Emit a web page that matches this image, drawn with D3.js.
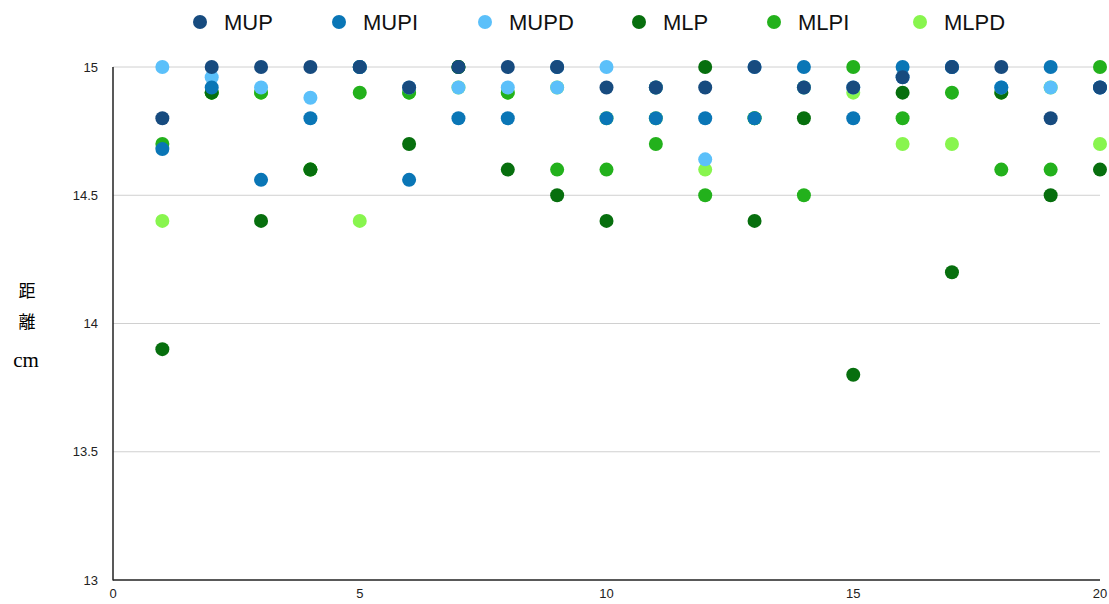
<!DOCTYPE html>
<html><head><meta charset="utf-8">
<script src="https://cdn.jsdelivr.net/npm/d3@7"></script>
<style>body{margin:0;background:#fff;font-family:"Liberation Sans",Arial,sans-serif}</style>
</head><body><svg id="c" width="1109" height="604"></svg>
<script>
const xs = [1,2,3,4,5,6,7,8,9,10,11,12,13,14,15,16,17,18,19,20];
const seriesNames = ["MUP","MUPI","MUPD","MLP","MLPI","MLPD"];
const colors = ["#174b7f","#0a76b6","#5bc0fa","#076f0e","#23b11c","#88f54e"];
const MUP  = [14.8,15,15,15,15,14.92,15,15,15,14.92,14.92,14.92,15,14.92,14.92,14.96,15,15,14.8,14.92];
const MUPI = [14.68,14.92,14.56,14.8,15,14.56,14.8,14.8,15,14.8,14.8,14.8,14.8,15,14.8,15,15,14.92,15,14.92];
const MUPD = [15,14.96,14.92,14.88,15,14.92,14.92,14.92,14.92,15,14.92,14.64,15,14.92,14.92,14.96,15,14.92,14.92,14.92];
const MLP  = [13.9,14.9,14.4,14.6,15,14.7,15,14.6,14.5,14.4,14.92,15,14.4,14.8,13.8,14.9,14.2,14.9,14.5,14.6];
const MLPI = [14.7,14.9,14.9,14.6,14.9,14.9,15,14.9,14.6,14.6,14.7,14.5,14.8,14.5,15,14.8,14.9,14.6,14.6,15];
const MLPD = [14.4,14.9,14.9,14.6,14.4,14.9,14.92,14.9,14.92,14.8,14.8,14.6,14.8,14.92,14.9,14.7,14.7,14.9,14.92,14.7];
const values = [MUP,MUPI,MUPD,MLP,MLPI,MLPD];
const xTicks = [0,5,10,15,20];
const yTicks = [13,13.5,14,14.5,15];

const svg = d3.select("#c");
const x = d3.scaleLinear().domain([0,20]).range([113,1100]);
const y = d3.scaleLinear().domain([13,15]).range([580,67]);

svg.append("g").selectAll("line").data(yTicks.filter(t=>t>13)).join("line")
  .attr("x1",x(0)).attr("x2",x(20)).attr("y1",d=>y(d)).attr("y2",d=>y(d))
  .attr("stroke","#d0d0d0").attr("stroke-width",1);

svg.append("g").selectAll("text").data(yTicks).join("text")
  .attr("x",98).attr("y",d=>y(d)).attr("dy","0.35em").attr("text-anchor","end")
  .attr("font-size",13).attr("fill","#222").text(d=>d);

svg.append("g").selectAll("text").data(xTicks).join("text")
  .attr("x",d=>x(d)).attr("y",598).attr("text-anchor","middle")
  .attr("font-size",13).attr("fill","#222").text(d=>d);

svg.append("line").attr("x1",x(0)).attr("x2",x(0)).attr("y1",y(15)).attr("y2",y(13)+0.5)
  .attr("stroke","#222").attr("stroke-width",1.5);
svg.append("line").attr("x1",x(0)).attr("x2",x(20)).attr("y1",y(13)).attr("y2",y(13))
  .attr("stroke","#222").attr("stroke-width",1.5);

const yl = svg.append("g");
yl.append("text").attr("x",27).attr("y",297).attr("text-anchor","middle")
  .attr("font-family","'Noto Sans CJK JP'").attr("font-size",17).text("距");
yl.append("text").attr("x",27).attr("y",328).attr("text-anchor","middle")
  .attr("font-family","'Noto Sans CJK JP'").attr("font-size",17).text("離");
yl.append("text").attr("x",26).attr("y",367).attr("text-anchor","middle")
  .attr("font-family","'Liberation Serif',serif").attr("font-size",21).text("cm");

const order = [5,4,3,2,1,0];
order.forEach(i=>{
  svg.append("g").selectAll("circle").data(xs.map((xv,j)=>({x:xv,v:values[i][j]}))).join("circle")
    .attr("cx",d=>x(d.x)).attr("cy",d=>y(d.v)).attr("r",7).attr("fill",colors[i]);
});

const legX = [200,339,485,639,774,920];
const lg = svg.append("g");
seriesNames.forEach((n,i)=>{
  lg.append("circle").attr("cx",legX[i]).attr("cy",22).attr("r",7).attr("fill",colors[i]);
  lg.append("text").attr("x",legX[i]+24).attr("y",22).attr("dy","0.35em")
    .attr("font-size",22).attr("fill","#111").attr("textLength",null).text(n);
});
</script></body></html>
